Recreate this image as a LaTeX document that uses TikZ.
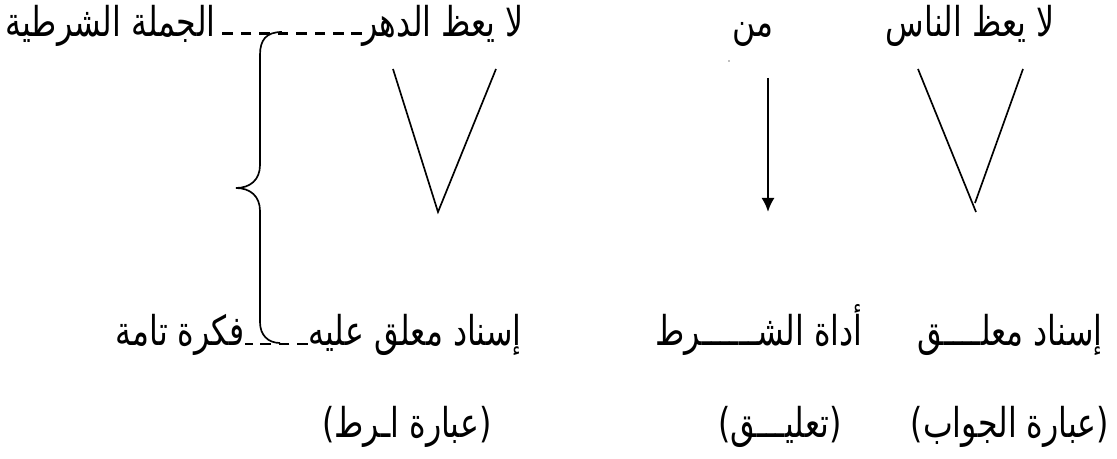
\documentclass[tikz,border=0pt]{standalone}
\usepackage{graphicx}
\usepackage{fontspec}
\newfontfamily\arabicfont[Script=Arabic]{DejaVu Sans}
\TeXXeTstate=1
\usetikzlibrary{arrows.meta,calc}
\newcommand{\artxt}[1]{\scalebox{1}[1.3]{\beginR #1\endR}}

\tikzset{
  artext/.style={font=\arabicfont\fontsize{18}{22}\selectfont, inner sep=0pt, anchor=base},
  vstroke/.style={line width=0.95pt},
  dashlink/.style={line width=1.2pt, dash pattern=on 6pt off 4.5pt},
}

\begin{document}
\begin{tikzpicture}[x=0.02cm,y=-0.02cm]
  \useasboundingbox (0,0) rectangle (1117,459);
  \node[artext, anchor=base west] (jumla) at (5,37) {\artxt{الجملة الشرطية}};
  \node[artext] (dahr) at (443,37) {\artxt{لا يعظ الدهر}};
  \node[artext] (man) at (753,37) {\artxt{من}};
  \node[artext] (nas) at (970,37) {\artxt{لا يعظ الناس}};
  \node[artext] (fikra) at (180,346) {\artxt{فكرة تامة}};
  \node[artext] (alayh) at (415,346) {\artxt{إسناد معلق عليه}};
  \node[artext] (adat) at (759,346) {\artxt{أداة الشــــــرط}};
  \node[artext] (muallaq) at (1010,346) {\artxt{إسناد معلــــق}};
  \node[artext] (ibsh) at (407,438) {\artxt{(عبارة اـرط)}};
  \node[artext] (taliq) at (780,438) {\artxt{(تعليـــق)}};
  \node[artext] (ibjw) at (1010,438) {\artxt{(عبارة الجواب)}};
  \coordinate (lva) at (393,69);
  \coordinate (lvb) at (438,212);
  \coordinate (lvc) at (496,69);
  \coordinate (rva) at (918,69);
  \coordinate (rvb) at (976,212);
  \coordinate (rvc) at (1023,69);
  \coordinate (rvd) at (975,203);
  \coordinate (arrtop) at (768,78);
  \coordinate (arrbot) at (768,212);
  \draw[vstroke] (lva) -- (lvb) -- (lvc);
  \draw[vstroke] (rva) -- (rvb);
  \draw[vstroke] (rvc) -- (rvd);
  \draw[line width=1.4pt, -{Latex[length=8pt,width=7.5pt]}] (arrtop) -- (arrbot);
  \fill[gray] (729,61) circle[radius=0.5pt];
  \draw[dashlink] ([yshift=2pt]dahr.base west) -- ([yshift=2pt]jumla.base east);
  \draw[dashlink] ([yshift=1pt]alayh.base west) -- ([yshift=1pt]fikra.base east);
  \draw[vstroke] (282,32) .. controls (266,32) and (260,40) .. (260,55) -- (260,165)
    .. controls (260,180) and (250,188) .. (236,188)
    .. controls (250,188) and (260,196) .. (260,211) -- (260,322)
    .. controls (260,335) and (268,343) .. (280,343);
\end{tikzpicture}
\end{document}
